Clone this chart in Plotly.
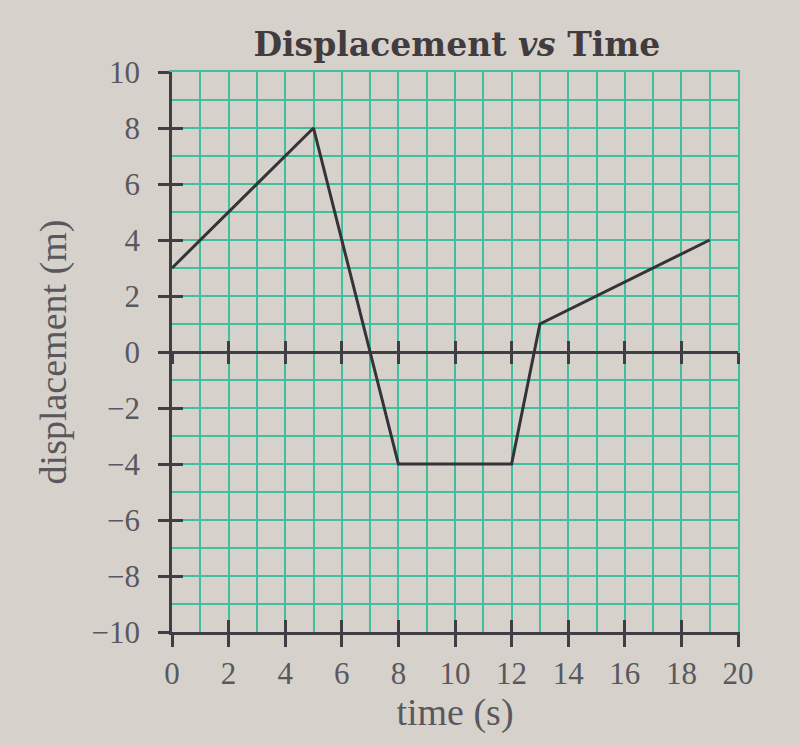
import plotly.graph_objects as go

# Data
time_s = [0, 5, 8, 12, 13, 19]
displacement_m = [3, 8, -4, -4, 1, 4]

x_ticks = [0, 2, 4, 6, 8, 10, 12, 14, 16, 18, 20]
y_ticks = [-10, -8, -6, -4, -2, 0, 2, 4, 6, 8, 10]

BG = "#d7d1cb"
GRID = "#3fbf9c"
DARK = "#3e3e44"
TEXT = "#58585e"
FONT = "Liberation Serif"

fig = go.Figure()
fig.add_trace(go.Scatter(x=time_s, y=displacement_m, mode="lines",
                         line=dict(color="#333338", width=3), showlegend=False,
                         hoverinfo="skip"))
# empty traces to activate helper axes
for xa, ya in [("x2", "y"), ("x3", "y"), ("x4", "y"), ("x5", "y"), ("x", "y2"), ("x", "y3")]:
    fig.add_trace(go.Scatter(x=[None], y=[None], xaxis=xa, yaxis=ya,
                             showlegend=False, hoverinfo="skip"))

common_x = dict(range=[0, 20], tickvals=x_ticks)
common_y = dict(range=[-10, 10], tickvals=y_ticks)
helper = dict(showgrid=False, zeroline=False, showticklabels=False)

fig.update_layout(
    width=800, height=745,
    paper_bgcolor=BG, plot_bgcolor=BG,
    margin=dict(l=172, r=62, t=72, b=113),
    title=dict(text="<b>Displacement <i>vs</i> Time</b>", x=0.571, xanchor="center",
               y=0.94, yanchor="middle",
               font=dict(family="DejaVu Serif", size=33, color="#433c3e")),
    xaxis=dict(**common_x, showgrid=True, gridcolor=GRID, gridwidth=2,
               minor=dict(dtick=1, showgrid=True, gridcolor=GRID, gridwidth=2, ticks=""),
               showline=True, linecolor=DARK, linewidth=2.5,
               ticks="outside", ticklen=12, tickwidth=2.5, tickcolor=DARK,
               tickfont=dict(family=FONT, size=31, color=TEXT),
               title=dict(text="time (s)", font=dict(family=FONT, size=38, color=TEXT), standoff=8),
               zeroline=False, anchor="y"),
    xaxis2=dict(**common_x, **helper, overlaying="x", anchor="y", side="bottom",
                showline=False, ticks="inside", ticklen=12, tickwidth=2.5, tickcolor=DARK),
    xaxis3=dict(**common_x, **helper, overlaying="x", anchor="free", position=0.5, side="bottom",
                showline=False, ticks="outside", ticklen=11, tickwidth=2.5, tickcolor=DARK),
    xaxis4=dict(**common_x, **helper, overlaying="x", anchor="free", position=0.5, side="bottom",
                showline=False, ticks="inside", ticklen=11, tickwidth=2.5, tickcolor=DARK),
    xaxis5=dict(**common_x, **helper, overlaying="x", anchor="y", side="top",
                showline=True, linecolor=GRID, linewidth=2, ticks=""),
    yaxis=dict(**common_y, showgrid=True, gridcolor=GRID, gridwidth=2,
               minor=dict(dtick=1, showgrid=True, gridcolor=GRID, gridwidth=2, ticks=""),
               showline=True, linecolor=DARK, linewidth=2.5,
               ticks="outside", ticklen=11, tickwidth=2.5, tickcolor=DARK,
               tickfont=dict(family=FONT, size=31, color=TEXT),
               ticklabelstandoff=12,
               title=dict(text="displacement (m)", font=dict(family=FONT, size=38, color=TEXT), standoff=14),
               zeroline=True, zerolinecolor=DARK, zerolinewidth=2.5, anchor="x"),
    yaxis2=dict(**common_y, **helper, overlaying="y", anchor="x", side="left",
                showline=False, ticks="inside", ticklen=11, tickwidth=2.5, tickcolor=DARK),
    yaxis3=dict(**common_y, **helper, overlaying="y", anchor="x", side="right",
                showline=True, linecolor=GRID, linewidth=2, ticks=""),
)

fig.write_html("out.html", config={"displayModeBar": False},
               post_script="document.body.style.margin='0';document.body.style.background='%s';" % BG)
